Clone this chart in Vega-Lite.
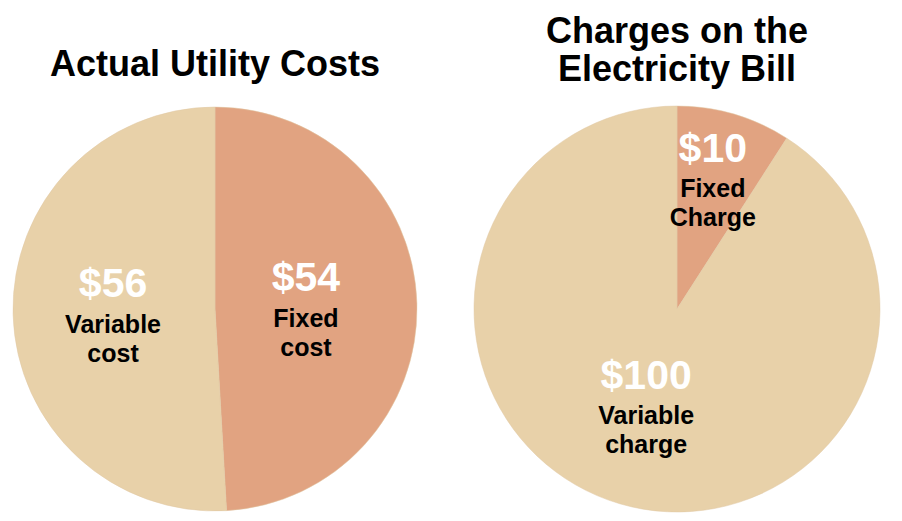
{
  "$schema": "https://vega.github.io/schema/vega-lite/v6.json",
  "background": "white",
  "padding": {"left": 0, "top": 12, "right": 0, "bottom": 0},
  "spacing": 32,
  "config": {
    "view": {"stroke": null},
    "title": {"fontSize": 36, "font": "Liberation Sans", "fontWeight": "bold", "color": "black", "lineHeight": 38, "offset": 15, "anchor": "middle"}
  },
  "datasets": {
    "utility": [
      {"type": "Fixed", "value": 54, "amount": "$54", "label": "Fixed\ncost"},
      {"type": "Variable", "value": 56, "amount": "$56", "label": "Variable\ncost"}
    ],
    "bill": [
      {"type": "Fixed", "value": 10, "amount": "$10", "label": "Fixed\nCharge"},
      {"type": "Variable", "value": 100, "amount": "$100", "label": "Variable\ncharge"}
    ]
  },
  "resolve": {"scale": {"theta": "independent", "radius": "independent"}},
  "hconcat": [
    {
      "width": 430,
      "height": 410,
      "title": {"text": ["", "Actual Utility Costs"], "offset": 20, "lineHeight": 35},
      "data": {"name": "utility"},
      "layer": [
        {
          "mark": {"type": "arc", "radius": 202, "stroke": "#e0c8a4", "strokeWidth": 0.5},
          "encoding": {
            "theta": {"field": "value", "type": "quantitative", "stack": true},
            "color": {"field": "type", "type": "nominal", "scale": {"domain": ["Fixed", "Variable"], "range": ["#E1A381", "#E8D1A9"]}, "legend": null}
          }
        },
        {
          "mark": {"type": "text", "font": "Liberation Sans", "fontWeight": "bold", "fontSize": 41, "fill": "white", "dy": -15, "baseline": "alphabetic", "align": "center"},
          "encoding": {
            "theta": {"field": "value", "type": "quantitative", "stack": true},
            "radius": {"field": "value", "type": "quantitative", "scale": {"type": "linear", "zero": false, "domain": [54, 56], "range": [91, 102]}},
            "detail": {"field": "type"},
            "text": {"field": "amount"}
          }
        },
        {
          "mark": {"type": "text", "font": "Liberation Sans", "fontWeight": "bold", "fontSize": 25, "fill": "black", "dy": 21, "baseline": "alphabetic", "align": "center", "lineBreak": "\n", "lineHeight": 29},
          "encoding": {
            "theta": {"field": "value", "type": "quantitative", "stack": true},
            "radius": {"field": "value", "type": "quantitative", "scale": {"type": "linear", "zero": false, "domain": [54, 56], "range": [91, 102]}},
            "detail": {"field": "type"},
            "text": {"field": "label"}
          }
        }
      ]
    },
    {
      "width": 430,
      "height": 410,
      "title": {"text": ["Charges on the", "Electricity Bill"]},
      "data": {"name": "bill"},
      "layer": [
        {
          "mark": {"type": "arc", "radius": 203, "stroke": "#e0c8a4", "strokeWidth": 0.5},
          "encoding": {
            "theta": {"field": "value", "type": "quantitative", "stack": true},
            "color": {"field": "type", "type": "nominal", "scale": {"domain": ["Fixed", "Variable"], "range": ["#E1A381", "#E8D1A9"]}, "legend": null}
          }
        },
        {
          "mark": {"type": "text", "font": "Liberation Sans", "fontWeight": "bold", "fontSize": 41, "fill": "white", "dy": -25, "baseline": "alphabetic", "align": "center"},
          "encoding": {
            "theta": {"field": "value", "type": "quantitative", "stack": true},
            "radius": {"field": "value", "type": "quantitative", "scale": {"type": "linear", "zero": false, "domain": [10, 100], "range": [127, 109.4]}},
            "detail": {"field": "type"},
            "text": {"field": "amount"}
          }
        },
        {
          "mark": {"type": "text", "font": "Liberation Sans", "fontWeight": "bold", "fontSize": 25, "fill": "black", "dy": 10, "baseline": "alphabetic", "align": "center", "lineBreak": "\n", "lineHeight": 29},
          "encoding": {
            "theta": {"field": "value", "type": "quantitative", "stack": true},
            "radius": {"field": "value", "type": "quantitative", "scale": {"type": "linear", "zero": false, "domain": [10, 100], "range": [127, 109.4]}},
            "detail": {"field": "type"},
            "text": {"field": "label"}
          }
        }
      ]
    }
  ]
}
